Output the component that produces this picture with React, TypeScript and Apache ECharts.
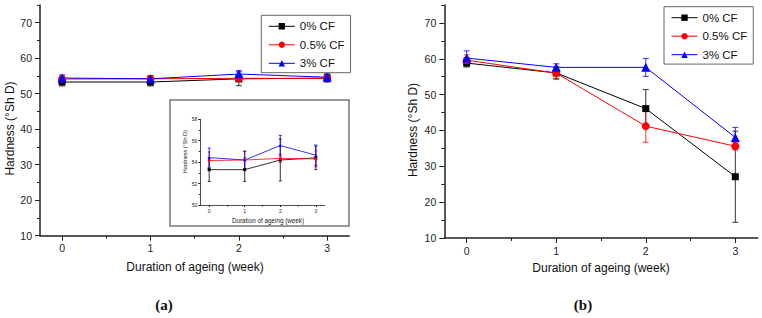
import React, { useEffect, useRef } from "react";
import * as echarts from "echarts";

const weeks = [0, 1, 2, 3];
const seriesNames = ["0% CF", "0.5% CF", "3% CF"];
const seriesColors = ["#000000", "#ff0000", "#0000ff"];
const seriesSymbols = ["rect", "circle", "triangle"];

// Panel (a): hardness means and standard deviations
const aMean0 = [53.3, 53.3, 54.2, 54.4];
const aMean05 = [54.15, 54.2, 54.35, 54.3];
const aMean3 = [54.42, 54.2, 55.55, 54.65];
const aErr0 = [1.1, 1.1, 1.95, 1.1];
const aErr05 = [0.8, 0.85, 0.4, 0.75];
const aErr3 = [0.9, 0.8, 0.95, 0.95];

// Panel (b)
const bMean0 = [58.8, 56.05, 46.1, 27.1];
const bMean05 = [59.6, 56.0, 41.2, 35.6];
const bMean3 = [60.2, 57.6, 57.6, 38.05];
const bErr0 = [1.1, 1.5, 5.3, 12.7];
const bErr05 = [1.5, 1.8, 4.5, 1.0];
const bErr3 = [2.0, 1.0, 2.5, 2.8];

// Tick values
const xMajorTicks = [0, 1, 2, 3];
const xMinorTicks = [0.5, 1.5, 2.5];
const yMajorTicks = [10, 20, 30, 40, 50, 60, 70];
const yMinorTicks = [15, 25, 35, 45, 55, 65, 75];
const insetYMajorTicks = [50, 52, 54, 56, 58];
const insetYMinorTicks = [51, 53, 55, 57];

const yTitle = "Hardness (°Sh D)";
const xTitle = "Duration of ageing (week)";

export default function App() {
  const ref = useRef<HTMLDivElement>(null);

  useEffect(() => {
    if (!ref.current) return;
    const chart = echarts.init(ref.current, null, { renderer: "svg" });

    const axisColor = "#222";
    const labelColor = "#222";

    const majorX = (gridIndex: number, fs: number, margin: number, tickLen: number, lw: number) => ({
      type: "value",
      gridIndex,
      position: "bottom",
      min: -0.25,
      max: 3.25,
      axisLine: { show: true, onZero: false, lineStyle: { color: axisColor, width: lw } },
      axisTick: { show: true, customValues: xMajorTicks, length: tickLen, lineStyle: { color: axisColor, width: 1 } },
      axisLabel: { show: true, customValues: xMajorTicks, fontSize: fs, color: labelColor, margin, fontFamily: "Liberation Sans" },
      splitLine: { show: false },
    });
    const minorX = (gridIndex: number, tickLen: number) => ({
      type: "value",
      gridIndex,
      position: "bottom",
      min: -0.25,
      max: 3.25,
      axisLine: { show: false, onZero: false },
      axisTick: { show: true, customValues: xMinorTicks, length: tickLen, lineStyle: { color: axisColor, width: 1 } },
      axisLabel: { show: false },
      splitLine: { show: false },
    });
    const majorY = (gridIndex: number, min: number, max: number, interval: number, ticks: number[], fs: number, margin: number, tickLen: number, lw: number) => ({
      type: "value",
      gridIndex,
      position: "left",
      min,
      max,
      interval,
      axisLine: { show: true, onZero: false, lineStyle: { color: axisColor, width: lw } },
      axisTick: { show: true, customValues: ticks, length: tickLen, lineStyle: { color: axisColor, width: 1 } },
      axisLabel: { show: true, customValues: ticks, fontSize: fs, color: labelColor, margin, fontFamily: "Liberation Sans" },
      splitLine: { show: false },
    });
    const minorY = (gridIndex: number, min: number, max: number, interval: number, ticks: number[], tickLen: number) => ({
      type: "value",
      gridIndex,
      position: "left",
      min,
      max,
      interval,
      axisLine: { show: false, onZero: false },
      axisTick: { show: true, customValues: ticks, length: tickLen, lineStyle: { color: axisColor, width: 1 } },
      axisLabel: { show: false },
      splitLine: { show: false },
    });

    const lineSeries = (name: string, idx: number, means: number[], axisIndex: number, small: boolean) => ({
      type: "line",
      name,
      xAxisIndex: axisIndex,
      yAxisIndex: axisIndex,
      data: weeks.map((w, i) => [w, means[i]]),
      symbol: seriesSymbols[idx],
      symbolSize: small ? [3, 3, 3][idx] : [7, 8, 9][idx],
      lineStyle: { color: seriesColors[idx], width: small ? 0.8 : 1 },
      itemStyle: { color: seriesColors[idx] },
      z: 5,
    });

    const errSeries = (idx: number, means: number[], errs: number[], axisIndex: number, cap: number) => ({
      type: "custom",
      name: "err" + axisIndex + "_" + idx,
      xAxisIndex: axisIndex,
      yAxisIndex: axisIndex,
      data: weeks.map((w, i) => [w, means[i] - errs[i], means[i] + errs[i]]),
      encode: { x: 0, y: [1, 2] },
      z: 4,
      renderItem: (params: any, api: any) => {
        const x = api.value(0);
        const lo = api.value(1);
        const hi = api.value(2);
        const p1 = api.coord([x, hi]);
        const p2 = api.coord([x, lo]);
        const style = { stroke: seriesColors[idx], lineWidth: 0.8 };
        return {
          type: "group",
          children: [
            { type: "line", shape: { x1: p1[0], y1: p1[1], x2: p2[0], y2: p2[1] }, style },
            { type: "line", shape: { x1: p1[0] - cap, y1: p1[1], x2: p1[0] + cap, y2: p1[1] }, style },
            { type: "line", shape: { x1: p2[0] - cap, y1: p2[1], x2: p2[0] + cap, y2: p2[1] }, style },
          ],
        };
      },
    });

    const aMeans = [aMean0, aMean05, aMean3];
    const aErrs = [aErr0, aErr05, aErr3];
    const bMeans = [bMean0, bMean05, bMean3];
    const bErrs = [bErr0, bErr05, bErr3];

    const series: any[] = [];
    // axis index 0 -> panel a main, 2 -> inset, 4 -> panel b
    seriesNames.forEach((n, i) => {
      series.push(errSeries(i, aMeans[i], aErrs[i], 0, 3));
      series.push(lineSeries(n, i, aMeans[i], 0, false));
    });
    seriesNames.forEach((n, i) => {
      series.push(errSeries(i, aMeans[i], aErrs[i], 2, 1.5));
      series.push(lineSeries("inset " + n, i, aMeans[i], 2, true));
    });
    seriesNames.forEach((n, i) => {
      series.push(errSeries(i, bMeans[i], bErrs[i], 4, 3));
      series.push(lineSeries(n, i, bMeans[i], 4, false));
    });

    const legendBase = {
      orient: "vertical",
      data: seriesNames,
      selectedMode: false,
      itemWidth: 26,
      itemHeight: 8,
      itemGap: 6.5,
      padding: [5, 6, 3.4, 7],
      borderColor: "#666",
      borderWidth: 1,
      backgroundColor: "#fff",
      lineStyle: { width: 1 },
      textStyle: { fontSize: 11.5, color: "#111", fontFamily: "Liberation Sans" },
    };

    const option: any = {
      animation: false,
      backgroundColor: "#fff",
      grid: [
        { left: 40, top: 5, width: 309.3, height: 230.7 },
        { left: 200.3, top: 119.3, width: 124.4, height: 85.7, z: 3 },
        { left: 444.3, top: 5, width: 313.4, height: 233 },
      ],
      xAxis: [
        majorX(0, 10.5, 7, 5, 1.5),
        minorX(0, 3),
        { ...majorX(1, 5, 3, 2, 0.8), z: 3 },
        { ...minorX(1, 1.5), z: 3 },
        majorX(2, 10.5, 7, 5, 1.5),
        minorX(2, 3),
      ],
      yAxis: [
        majorY(0, 10, 75, 10, yMajorTicks, 10.5, 8, 5, 1.5),
        minorY(0, 10, 75, 10, yMinorTicks, 3),
        { ...majorY(1, 50, 58, 2, insetYMajorTicks, 5, 3, 2, 0.8), z: 3 },
        { ...minorY(1, 50, 58, 2, insetYMinorTicks, 1.5), z: 3 },
        majorY(2, 10, 75, 10, yMajorTicks, 10.5, 8, 5, 1.5),
        minorY(2, 10, 75, 10, yMinorTicks, 3),
      ],
      legend: [
        { ...legendBase, left: 261.3, top: 15.3 },
        { ...legendBase, left: 664, top: 6.7 },
      ],
      graphic: [
        {
          type: "rect",
          z: -1,
          shape: { x: 170, y: 100, width: 179, height: 126 },
          style: { fill: "#fff", stroke: "#777", lineWidth: 1.5 },
        },
        {
          type: "text",
          x: 10,
          y: 128.5,
          rotation: Math.PI / 2,
          style: { text: yTitle, fontSize: 12, fill: "#111", align: "center", verticalAlign: "middle", fontFamily: "Liberation Sans" },
        },
        {
          type: "text",
          x: 195,
          y: 266.7,
          style: { text: xTitle, fontSize: 12, fill: "#111", align: "center", verticalAlign: "middle", fontFamily: "Liberation Sans" },
        },
        {
          type: "text",
          x: 412.7,
          y: 130,
          rotation: Math.PI / 2,
          style: { text: yTitle, fontSize: 12, fill: "#111", align: "center", verticalAlign: "middle", fontFamily: "Liberation Sans" },
        },
        {
          type: "text",
          x: 601,
          y: 268.3,
          style: { text: xTitle, fontSize: 12, fill: "#111", align: "center", verticalAlign: "middle", fontFamily: "Liberation Sans" },
        },
        {
          type: "text",
          x: 184.7,
          y: 151.7,
          rotation: Math.PI / 2,
          style: { text: yTitle, fontSize: 5.5, fill: "#222", align: "center", verticalAlign: "middle", fontFamily: "Liberation Sans" },
        },
        {
          type: "text",
          x: 268,
          y: 220.7,
          style: { text: xTitle, fontSize: 6.3, fill: "#222", align: "center", verticalAlign: "middle", fontFamily: "Liberation Sans" },
        },
        {
          type: "text",
          x: 164,
          y: 305,
          style: { text: "(a)", fontSize: 15, fontWeight: "bold", fill: "#111", align: "center", verticalAlign: "middle", fontFamily: "Liberation Serif" },
        },
        {
          type: "text",
          x: 583,
          y: 305,
          style: { text: "(b)", fontSize: 15, fontWeight: "bold", fill: "#111", align: "center", verticalAlign: "middle", fontFamily: "Liberation Serif" },
        },
      ],
      series,
    };

    chart.setOption(option);
    return () => chart.dispose();
  }, []);

  return (
    <div
      ref={ref}
      style={{ position: "fixed", left: 0, top: 0, width: 762, height: 318, background: "#fff" }}
    />
  );
}
